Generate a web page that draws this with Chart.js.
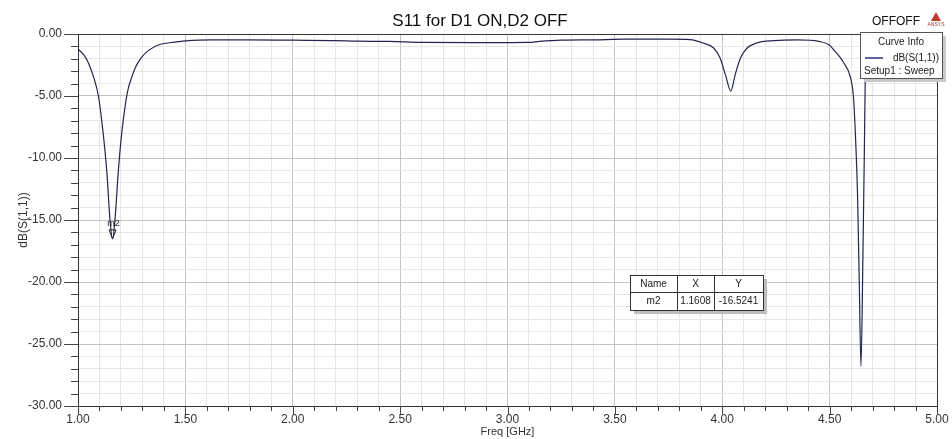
<!DOCTYPE html>
<html>
<head>
<meta charset="utf-8">
<script src="https://cdn.jsdelivr.net/npm/chart.js@4/dist/chart.umd.min.js"></script>
<style>
html,body{margin:0;padding:0;background:#fff;}
canvas{display:block;}
</style>
</head>
<body>
<canvas id="c" width="952" height="439"></canvas>
<script>
// ---- data ----
const freqGHz = [1.00,1.03,1.05,1.075,1.095,1.11,1.125,1.135,1.149,1.1608,1.172,1.188,1.20,1.211,1.23,1.25,1.27,1.295,1.33,1.38,1.45,1.53,1.62,1.80,2.00,2.20,2.30,2.45,2.60,2.90,3.10,3.15,3.25,3.40,3.55,3.75,3.85,3.91,3.96,3.99,4.015,4.04,4.06,4.085,4.116,4.16,4.24,4.35,4.45,4.50,4.52,4.545,4.565,4.597,4.611,4.621,4.63,4.638,4.646,4.655,4.662,4.666,4.672,4.70,4.80,5.00];
const s11dB  = [-1.2,-1.75,-2.4,-3.6,-5.0,-6.9,-9.3,-11.3,-15.0,-16.52,-15.0,-11.0,-8.6,-6.9,-4.7,-3.5,-2.6,-1.9,-1.3,-0.85,-0.65,-0.52,-0.48,-0.47,-0.50,-0.53,-0.58,-0.60,-0.68,-0.70,-0.68,-0.60,-0.50,-0.47,-0.42,-0.42,-0.46,-0.73,-1.13,-1.94,-3.3,-4.6,-3.3,-1.94,-1.13,-0.73,-0.54,-0.48,-0.60,-0.90,-1.3,-1.8,-2.3,-3.5,-5.1,-8.5,-13.0,-20.0,-26.8,-18.0,-9.0,-3.5,-1.6,-0.9,-0.6,-0.55];
const xTickValues = [1.0,1.5,2.0,2.5,3.0,3.5,4.0,4.5,5.0];
const xTickLabels = ['1.00','1.50','2.00','2.50','3.00','3.50','4.00','4.50','5.00'];
const yTickValues = [0,-5,-10,-15,-20,-25,-30];
const yTickLabels = ['0.00','-5.00','-10.00','-15.00','-20.00','-25.00','-30.00'];
const markerName = 'm2';
const markerX = 1.1608;
const markerY = -16.5241;
const markerXText = '1.1608';
const markerYText = '-16.5241';
const titleText = 'S11 for D1 ON,D2 OFF';
const seriesName = 'dB(S(1,1))';
const seriesSetup = 'Setup1 : Sweep';

const points = freqGHz.map((f,i)=>({x:f,y:s11dB[i]}));
const FONT = "'Liberation Sans', Arial, sans-serif";
const xMinorTicks = []; for (let i=10;i<=50;i++) xMinorTicks.push(i/10);
const yMinorTicks = []; for (let i=-30;i<=0;i++) yMinorTicks.push(i);
const isMajorX = v => Math.abs(v*2 - Math.round(v*2)) < 1e-6;
const isMajorY = v => Math.abs(v/5 - Math.round(v/5)) < 1e-6;
const labelX = v => { const k = xTickValues.findIndex(t=>Math.abs(t-v)<1e-6); return k>=0 ? xTickLabels[k] : ''; };
const labelY = v => { const k = yTickValues.findIndex(t=>Math.abs(t-v)<1e-6); return k>=0 ? yTickLabels[k] : ''; };

const deco = {
  id:'deco',
  beforeDraw(chart){
    const c = chart.ctx; c.save(); c.fillStyle='#fff'; c.fillRect(0,0,chart.width,chart.height); c.restore();
  },
  afterDraw(chart){
    const c = chart.ctx, a = chart.chartArea, xs = chart.scales.x, ys = chart.scales.y;
    c.save();
    // frame
    c.strokeStyle='#333'; c.lineWidth=1;
    c.beginPath(); c.moveTo(a.left, a.top+0.5); c.lineTo(a.right, a.top+0.5); c.stroke();
    c.beginPath(); c.moveTo(a.right+0.5, a.top); c.lineTo(a.right+0.5, a.bottom); c.stroke();
    // tick marks
    c.strokeStyle='#444';
    xMinorTicks.forEach(v=>{
      const px = Math.round(xs.getPixelForValue(v))+0.5;
      const len = isMajorX(v) ? 8 : 5;
      c.beginPath(); c.moveTo(px, a.bottom); c.lineTo(px, a.bottom+len); c.stroke();
    });
    yMinorTicks.forEach(v=>{
      const py = Math.round(ys.getPixelForValue(v))+0.5;
      const len = isMajorY(v) ? 14 : 7;
      c.beginPath(); c.moveTo(a.left-len, py); c.lineTo(a.left, py); c.stroke();
    });
    // title
    c.fillStyle='#111'; c.font='17px '+FONT; c.textAlign='center'; c.textBaseline='alphabetic';
    c.fillText(titleText, 480, 26);
    c.font='12px '+FONT; c.textAlign='left';
    c.fillText('OFFOFF', 872, 25);
    // logo
    c.fillStyle='#c0392b';
    c.beginPath(); c.moveTo(936,12); c.lineTo(931,21); c.lineTo(941,21); c.closePath(); c.fill();
    c.font='5px '+FONT; c.fillStyle='#a33'; c.textAlign='center'; c.fillText('ANSYS', 936, 26);
    // legend box
    c.fillStyle='#c8c8c8'; c.fillRect(864,36,82,46);
    c.fillStyle='#fff'; c.fillRect(860,32,82,46);
    c.strokeStyle='#555'; c.lineWidth=1; c.strokeRect(860.5,32.5,82,46);
    c.fillStyle='#222'; c.font='10px '+FONT; c.textAlign='center'; c.textBaseline='middle';
    c.fillText('Curve Info', 901, 42);
    c.strokeStyle='#2b2f7e'; c.lineWidth=1.5;
    c.beginPath(); c.moveTo(865,58); c.lineTo(883,58); c.stroke();
    c.textAlign='right'; c.fillText(seriesName, 939, 58);
    c.textAlign='left'; c.fillText(seriesSetup, 864, 71);
    // marker table
    const tx=630, ty=275, tw=133, th=35, c1=677, c2=714, rmid=292;
    c.fillStyle='#bdbdbd'; c.fillRect(tx+4,ty+4,tw,th);
    c.fillStyle='#fff'; c.fillRect(tx,ty,tw,th);
    c.strokeStyle='#333'; c.lineWidth=1; c.strokeRect(tx+0.5,ty+0.5,tw,th);
    c.beginPath();
    c.moveTo(tx, rmid+0.5); c.lineTo(tx+tw, rmid+0.5);
    c.moveTo(c1+0.5, ty); c.lineTo(c1+0.5, ty+th);
    c.moveTo(c2+0.5, ty); c.lineTo(c2+0.5, ty+th);
    c.stroke();
    c.fillStyle='#222'; c.font='10px '+FONT; c.textAlign='center'; c.textBaseline='middle';
    c.fillText('Name', (tx+c1)/2, 284); c.fillText('X', (c1+c2)/2, 284); c.fillText('Y', (c2+tx+tw)/2, 284);
    c.fillText(markerName, (tx+c1)/2, 301); c.fillText(markerXText, (c1+c2)/2, 301); c.fillText(markerYText, (c2+tx+tw)/2, 301);
    // marker triangle
    const mx = xs.getPixelForValue(markerX), my = ys.getPixelForValue(markerY);
    c.strokeStyle='#222'; c.lineWidth=1;
    c.beginPath(); c.moveTo(mx, my); c.lineTo(mx-3.5, my-9); c.lineTo(mx+3.5, my-9); c.closePath(); c.stroke();
    c.fillStyle='#222'; c.font='9px '+FONT; c.textAlign='center'; c.textBaseline='middle';
    c.fillText(markerName, mx+1, my-15);
    c.restore();
  }
};

new Chart(document.getElementById('c'), {
  type:'line',
  data:{ datasets:[{ label:seriesName, data:points, borderColor:'#23264f', borderWidth:1.2, pointRadius:0, fill:false, cubicInterpolationMode:'monotone' }] },
  options:{
    responsive:false, animation:false,
    layout:{ padding:{ top:34, right:15, left:0, bottom:0 } },
    plugins:{ legend:{display:false}, title:{display:false}, tooltip:{enabled:false} },
    scales:{
      x:{
        type:'linear', min:1, max:5,
        afterBuildTicks(s){ s.ticks = xMinorTicks.map(v=>({value:v})); },
        afterFit(s){ s.height = 33; s.paddingRight = 0; s.paddingLeft = 0; },
        ticks:{ autoSkip:false, maxRotation:0, padding:6, color:'#333', font:{family:FONT,size:12}, callback:(v)=>labelX(v) },
        grid:{ drawTicks:false, color:(ctx)=> isMajorX(ctx.tick.value) ? '#c4c4c4' : '#e6e6e6', lineWidth:1 },
        border:{ color:'#333', width:1 },
        title:{ display:true, text:'Freq [GHz]', color:'#333', font:{family:FONT,size:11}, padding:{top:0,bottom:0} }
      },
      y:{
        type:'linear', min:-30, max:0,
        afterBuildTicks(s){ s.ticks = yMinorTicks.map(v=>({value:v})); },
        afterFit(s){ s.width = 78; s.paddingTop = 0; s.paddingBottom = 0; },
        ticks:{ autoSkip:false, padding:16, color:'#333', font:{family:FONT,size:12}, callback:(v)=>labelY(v) },
        grid:{ drawTicks:false, color:(ctx)=> isMajorY(ctx.tick.value) ? '#c4c4c4' : '#e6e6e6', lineWidth:1 },
        border:{ color:'#333', width:1 },
        title:{ display:true, text:'dB(S(1,1))', color:'#333', font:{family:FONT,size:12}, padding:{top:16,bottom:0} }
      }
    }
  },
  plugins:[deco]
});
</script>
</body>
</html>
